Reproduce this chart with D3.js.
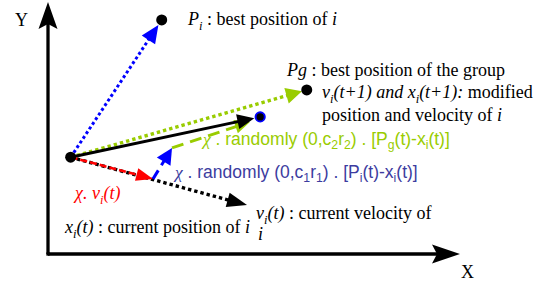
<!DOCTYPE html>
<html><head><meta charset="utf-8">
<script src="https://cdn.jsdelivr.net/npm/d3@7"></script>
<style>html,body{margin:0;padding:0;background:#fff;}svg{display:block;}</style>
</head><body>
<svg id="c" width="552" height="288"></svg>
<script>
// ---- data (diagram coordinates, 0..100 on both axes) ----
const pointNames = ["xi", "Pi", "Pg", "xnew"];
const pointX = [5.5, 27.6, 62.8, 51.5];
const pointY = [38.4, 92.9, 65.1, 54.4];
// vectors: [name, fromX, fromY, toX, toY]
const vecNames = ["toPi", "toPg", "newVel", "vel", "inertia", "cognitive", "social"];
const vecFromX = [5.5, 5.5, 5.5, 5.5, 5.5, 25.5, 30.1];
const vecFromY = [38.4, 38.4, 38.4, 38.4, 38.4, 29.8, 42.1];
const vecToX = [27.6, 62.8, 51.5, 48.3, 25.5, 30.1, 49.0];
const vecToY = [92.9, 65.1, 54.4, 19.4, 29.8, 42.1, 52.4];
const axisLabels = ["X", "Y"];

const svg = d3.select("#c");
const x = d3.scaleLinear().domain([0, 100]).range([48, 460]);
const y = d3.scaleLinear().domain([0, 100]).range([254, 2]);

function head(x1, y1, x2, y2, len, hw, notch) {
  const dx = x2 - x1, dy = y2 - y1, L = Math.hypot(dx, dy);
  const ux = dx / L, uy = dy / L, px = -uy, py = ux;
  const bx = x2 - ux * len, by = y2 - uy * len;
  const nx = x2 - ux * (len - notch), ny = y2 - uy * (len - notch);
  return [[x2, y2], [bx + px * hw, by + py * hw], [nx, ny], [bx - px * hw, by - py * hw]];
}
function arrow(x1, y1, x2, y2, o) {
  const g = svg.append("g");
  const dx = x2 - x1, dy = y2 - y1, L = Math.hypot(dx, dy);
  const ux = dx / L, uy = dy / L;
  const cut = o.len * 0.7;
  g.append("line").attr("x1", x1).attr("y1", y1)
    .attr("x2", x2 - ux * cut).attr("y2", y2 - uy * cut)
    .attr("stroke", o.color).attr("stroke-width", o.w)
    .attr("stroke-dasharray", o.dash || null).attr("stroke-linecap", "butt");
  g.append("polygon").attr("points", head(x1, y1, x2, y2, o.len, o.hw, o.notch || 0).map(p => p.join(",")).join(" "))
    .attr("fill", o.color);
}

// axes
const ox = x(0), oy = y(0);
arrow(ox, oy, x(100), oy, {color: "#000", w: 3.3, len: 28, hw: 9.5, notch: 5});
arrow(ox, oy, ox, y(100), {color: "#000", w: 3.3, len: 27, hw: 9.5, notch: 5});
svg.append("rect").attr("x", ox - 1.65).attr("y", oy - 1.65).attr("width", 3.3).attr("height", 3.3).attr("fill", "#000");

const serif = "'Liberation Serif','Times New Roman',serif";
const sans = "'Liberation Sans',Arial,sans-serif";
svg.append("text").attr("x", x(100) + 1).attr("y", 278).attr("font-family", serif).attr("font-size", 18).text(axisLabels[0]);
svg.append("text").attr("x", 15).attr("y", 26).attr("font-family", serif).attr("font-size", 18).text(axisLabels[1]);

const P = i => [x(pointX[i]), y(pointY[i])];
const V = i => [x(vecFromX[i]), y(vecFromY[i]), x(vecToX[i]), y(vecToY[i])];
function toDot(vi, pi, r) {
  const [x1, y1] = V(vi);
  const [cx, cy] = P(pi);
  const dx = cx - x1, dy = cy - y1, L = Math.hypot(dx, dy);
  return [x1, y1, cx - dx / L * r, cy - dy / L * r];
}

// vectors
arrow(...toDot(0, 1, 6), {color: "#0000ff", w: 3, dash: "3,2.6", len: 18, hw: 8});
arrow(...toDot(1, 2, 5), {color: "#99cc00", w: 3.4, dash: "3.4,3", len: 16, hw: 8});
arrow(...V(6), {color: "#99cc00", w: 3, dash: "12,7", len: 15, hw: 7});
arrow(...toDot(2, 3, 6), {color: "#000", w: 3, len: 17, hw: 7.5});
arrow(...V(3), {color: "#000", w: 3.4, dash: "3.4,3", len: 20, hw: 7.5});
arrow(...V(4), {color: "#ff0000", w: 2.6, dash: "7,3", len: 17, hw: 6.5});
arrow(...V(5), {color: "#0000ff", w: 3, dash: "10,6", len: 16, hw: 8});

// dots
svg.append("circle").attr("cx", P(0)[0]).attr("cy", P(0)[1]).attr("r", 5.5).attr("fill", "#000");
svg.append("circle").attr("cx", P(1)[0]).attr("cy", P(1)[1]).attr("r", 5.5).attr("fill", "#000");
svg.append("circle").attr("cx", P(2)[0]).attr("cy", P(2)[1]).attr("r", 5.5).attr("fill", "#000");
svg.append("circle").attr("cx", P(3)[0]).attr("cy", P(3)[1]).attr("r", 4.6).attr("fill", "#000").attr("stroke", "#0000ff").attr("stroke-width", 2);

// rich text: segs = [text, flags] with flags: i italic, s subscript, g greek serif italic
function rich(px, py, segs, o) {
  const t = svg.append("text").attr("x", px).attr("y", py)
    .attr("font-family", o.font).attr("font-size", o.size).attr("fill", o.color || "#000");
  let shifted = false;
  segs.forEach(([s, f]) => {
    f = f || "";
    const ts = t.append("tspan").text(s);
    if (f.includes("i") || f.includes("g")) ts.attr("font-style", "italic");
    if (f.includes("g")) ts.attr("font-family", serif);
    if (f.includes("s")) {
      ts.attr("font-size", o.size * 0.7);
      if (!shifted) { ts.attr("dy", o.size * 0.25); shifted = true; }
    } else if (shifted) { ts.attr("dy", -o.size * 0.25); shifted = false; }
  });
  return t;
}
const S = {font: serif, size: 18};
rich(188, 25, [["P", "i"], ["i", "is"], [" : best position of "], ["i", "i"]], S);
rich(287, 76, [["Pg", "i"], [" : best position of the group"]], S);
rich(322, 98, [["v", "i"], ["i", "is"], ["(t+1) and x", "i"], ["i", "is"], ["(t+1):", "i"], [" modified"]], S);
rich(322, 121, [["position and velocity of "], ["i", "i"]], S);
rich(256, 219, [["v", "i"], ["i", "is"], ["(t)", "i"], [" : current velocity of"]], S);
rich(258, 240, [["i", "i"]], S);
rich(65, 233, [["x", "i"], ["i", "is"], ["(t)", "i"], [" : current position of "], ["i", "i"]], S);
rich(75, 199, [["χ", "g"], [". v", "i"], ["i", "is"], ["(t)", "i"]], {font: serif, size: 18, color: "#ff0000"});
rich(203, 145, [["χ", "g"], [" . randomly (0,c"], ["2", "s"], ["r"], ["2", "s"], [") . [P"], ["g", "s"], ["(t)-x"], ["i", "s"], ["(t)]"]], {font: sans, size: 17.5, color: "#99cc00"});
rich(175, 178, [["χ", "g"], [" . randomly (0,c"], ["1", "s"], ["r"], ["1", "s"], [") . [P"], ["i", "s"], ["(t)-x"], ["i", "s"], ["(t)]"]], {font: sans, size: 17.5, color: "#3c3ca0"});
</script>
</body></html>
